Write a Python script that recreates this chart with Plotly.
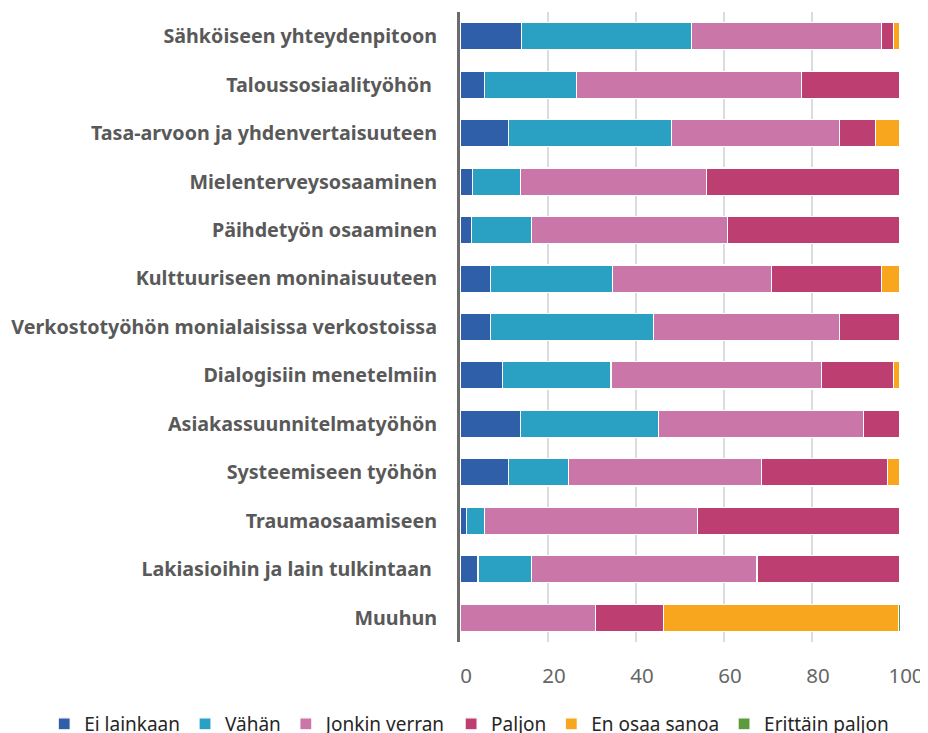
import plotly.graph_objects as go

categories = [
    "Sähköiseen yhteydenpitoon",
    "Taloussosiaalityöhön\u00a0",
    "Tasa-arvoon ja yhdenvertaisuuteen",
    "Mielenterveysosaaminen",
    "Päihdetyön osaaminen",
    "Kulttuuriseen moninaisuuteen",
    "Verkostotyöhön monialaisissa verkostoissa",
    "Dialogisiin menetelmiin",
    "Asiakassuunnitelmatyöhön",
    "Systeemiseen työhön",
    "Traumaosaamiseen",
    "Lakiasioihin ja lain tulkintaan\u00a0",
    "Muuhun",
]

ei_lainkaan = [13.9, 5.6, 11.0, 2.8, 2.7, 6.9, 6.9, 9.6, 13.7, 11.0, 1.4, 4.1, 0]
vahan = [38.8, 20.8, 37.0, 10.9, 13.5, 27.8, 37.0, 24.7, 31.5, 13.7, 4.1, 12.1, 0]
jonkin_verran = [43.1, 51.3, 38.3, 42.4, 44.6, 36.1, 42.4, 47.8, 46.5, 43.8, 48.5, 51.3, 30.8]
paljon = [2.7, 22.3, 8.1, 43.9, 39.2, 25.0, 13.7, 16.4, 8.3, 28.7, 46.0, 32.5, 15.4]
en_osaa_sanoa = [1.5, 0, 5.6, 0, 0, 4.2, 0, 1.5, 0, 2.8, 0, 0, 53.5]
erittain_paljon = [0, 0, 0, 0, 0, 0, 0, 0, 0, 0, 0, 0, 0.8]

series_names = ["Ei lainkaan", "Vähän", "Jonkin verran", "Paljon", "En osaa sanoa", "Erittäin paljon"]
series_values = [ei_lainkaan, vahan, jonkin_verran, paljon, en_osaa_sanoa, erittain_paljon]
colors = ["#2F5FA8", "#2AA0C2", "#CA76A8", "#BD3F71", "#F8A61E", "#5C9A3C"]

xticks = [0, 20, 40, 60, 80, 100]

fig = go.Figure()
for name, vals, col in zip(series_names, series_values, colors):
    fig.add_trace(go.Bar(
        y=categories, x=vals, name=name, orientation="h",
        marker=dict(color=col, line=dict(color="white", width=1.2)),
        cliponaxis=False,
    ))

fig.update_layout(
    barmode="stack",
    width=920, height=725,
    margin=dict(l=452, r=28, t=4, b=91, autoexpand=False),
    plot_bgcolor="white", paper_bgcolor="white",
    font=dict(family="Noto Sans, sans-serif", color="#404040"),
    showlegend=True,
    legend=dict(
        orientation="h", x=-0.945, xanchor="left",
        y=-0.1, yanchor="top",
        font=dict(size=19, color="#262626"),
        itemwidth=30, traceorder="normal",
    ),
    bargap=0.44,
)
fig.update_xaxes(
    range=[0, 100], tickvals=xticks, ticktext=[str(v) for v in xticks],
    showgrid=True, gridcolor="#D9DCE1", gridwidth=1.5,
    zeroline=False, showline=False,
    tickfont=dict(size=20.5, color="#666666"),
    ticks="outside", ticklen=15, tickcolor="rgba(0,0,0,0)",
    ticklabelshift=6, ticklabeloverflow="allow",
)
fig.update_yaxes(
    autorange="reversed",
    showline=True, linecolor="#6B6B6B", linewidth=3,
    showgrid=False, zeroline=False,
    tickfont=dict(size=19.7, color="#595959", family="Noto Sans, sans-serif", weight="bold"),
    ticks="outside", ticklen=16, tickcolor="rgba(0,0,0,0)",
)

fig.write_html("out.html")
